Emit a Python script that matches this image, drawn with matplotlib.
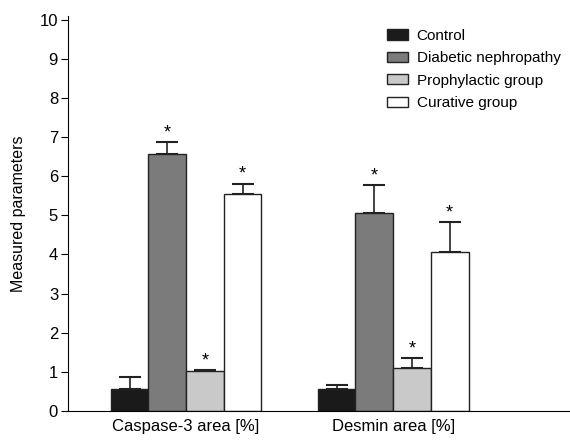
import numpy as np
import matplotlib
matplotlib.use('Agg')
import matplotlib.pyplot as plt
from matplotlib import font_manager

# data
categories = ['Caspase-3 area [%]', 'Desmin area [%]']
groups = ['Control', 'Diabetic nephropathy', 'Prophylactic group', 'Curative group']
means = {
    'Control': [0.57, 0.56],
    'Diabetic nephropathy': [6.58, 5.05],
    'Prophylactic group': [1.02, 1.09],
    'Curative group': [5.54, 4.06],
}
errs = {
    'Control': [0.29, 0.11],
    'Diabetic nephropathy': [0.30, 0.73],
    'Prophylactic group': [0.03, 0.26],
    'Curative group': [0.27, 0.77],
}
stars = {
    'Control': [False, False],
    'Diabetic nephropathy': [True, True],
    'Prophylactic group': [True, True],
    'Curative group': [True, True],
}
colors = ['#1a1a1a', '#7b7b7b', '#c9c9c9', '#ffffff']

names = {f.name for f in font_manager.fontManager.ttflist}
fam = 'Liberation Sans Narrow' if 'Liberation Sans Narrow' in names else 'Liberation Sans'
plt.rcParams['font.family'] = [fam, 'DejaVu Sans']

fig = plt.figure(figsize=(5.7, 4.4), dpi=100)
ax = fig.add_axes([0.119, 0.066, 0.881, 0.898])

x = np.arange(len(categories))
w = 0.182
for i, g in enumerate(groups):
    xs = x + (i - 1.5) * w
    ax.bar(xs, means[g], w, color=colors[i], edgecolor='#222222', linewidth=1.0,
           label=g, zorder=2)
    ax.errorbar(xs, means[g], yerr=[np.zeros(len(xs)), errs[g]], fmt='none',
                ecolor='#222222', elinewidth=1.2, capsize=8, capthick=1.5, zorder=1)
    for xi, m, e, s in zip(xs, means[g], errs[g], stars[g]):
        if s:
            ax.text(xi, m + e + 0.02, '*', ha='center', va='bottom', fontsize=13)

ax.set_xlim(-0.571, 1.854)
ax.set_ylim(0, 10.1)
ax.set_yticks(range(0, 11))
ax.set_xticks(x)
ax.set_xticklabels(categories, fontsize=12)
ax.tick_params(axis='x', length=0, pad=6)
ax.tick_params(axis='y', length=5, labelsize=12, pad=2)
ax.set_ylabel('Measured parameters', fontsize=11.5, labelpad=10)
for s in ['top', 'right']:
    ax.spines[s].set_visible(False)

ax.legend(loc='upper left', bbox_to_anchor=(0.608, 1.002), frameon=False, fontsize=11,
          handlelength=1.35, handleheight=0.65, labelspacing=0.55, handletextpad=0.6)

fig.savefig('out.png', dpi=100)
